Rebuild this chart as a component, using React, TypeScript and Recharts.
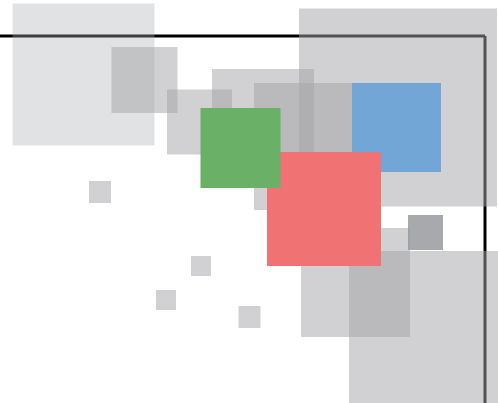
import { ScatterChart, Scatter, XAxis, YAxis, ZAxis, ReferenceLine } from 'recharts'

// x, y = centre of each square, s = side length (all in plot units)
const lightSquares = [{ x: 83.5, y: 328.5, s: 142 }]

const greySquares = [
  { x: 144.5, y: 323, s: 66 },
  { x: 199.5, y: 281, s: 65 },
  { x: 263, y: 283, s: 102 },
  { x: 317.5, y: 256.5, s: 127 },
  { x: 398, y: 295.5, s: 198 },
  { x: 100, y: 211, s: 22 },
  { x: 201, y: 137, s: 20 },
  { x: 166, y: 103, s: 20 },
  { x: 249.5, y: 86, s: 22 },
  { x: 355.5, y: 120.5, s: 109 },
  { x: 449, y: 52, s: 200 },
]

const darkSquares = [{ x: 425.5, y: 170.5, s: 35 }]

const blueSquares = [{ x: 396.5, y: 275.5, s: 89 }]
const redSquares = [{ x: 324, y: 194, s: 114 }]
const greenSquares = [{ x: 240.5, y: 255, s: 80 }]

const xDomain = [0, 485]
const yDomain = [0, 367]
const sizeDomain = [0, 200]

const square = (fill: string, opacity: number) => {
  // eslint-disable-next-line @typescript-eslint/no-explicit-any
  const Sq = (props: any) => {
    const { cx, cy } = props
    const side = props.size ?? props.width ?? 0
    return (
      <rect
        x={cx - side / 2}
        y={cy - side / 2}
        width={side}
        height={side}
        fill={fill}
        fillOpacity={opacity}
      />
    )
  }
  return Sq
}

export default function App() {
  return (
    <div style={{ position: 'absolute', left: 0, top: 0 }}>
      <ScatterChart
        width={498}
        height={403}
        margin={{ top: 36, right: 13, bottom: 0, left: 0 }}
      >
        <XAxis type="number" dataKey="x" domain={xDomain} hide />
        <YAxis type="number" dataKey="y" domain={yDomain} hide />
        <ZAxis type="number" dataKey="s" domain={sizeDomain} range={sizeDomain} />
        <Scatter data={lightSquares} shape={square('#a9abaf', 0.35)} isAnimationActive={false} />
        <Scatter data={greySquares} shape={square('#a3a4a7', 0.5)} isAnimationActive={false} />
        <Scatter data={darkSquares} shape={square('#999a9d', 0.85)} isAnimationActive={false} />
        <Scatter data={blueSquares} shape={square('#72a6d6', 1)} isAnimationActive={false} />
        <Scatter data={redSquares} shape={square('#f07272', 1)} isAnimationActive={false} />
        <Scatter data={greenSquares} shape={square('#6ab067', 1)} isAnimationActive={false} />
        <ReferenceLine y={yDomain[1]} stroke="#000" strokeWidth={3} strokeOpacity={1} />
        <ReferenceLine x={xDomain[1]} stroke="#000" strokeWidth={3} strokeOpacity={1} />
      </ScatterChart>
    </div>
  )
}
